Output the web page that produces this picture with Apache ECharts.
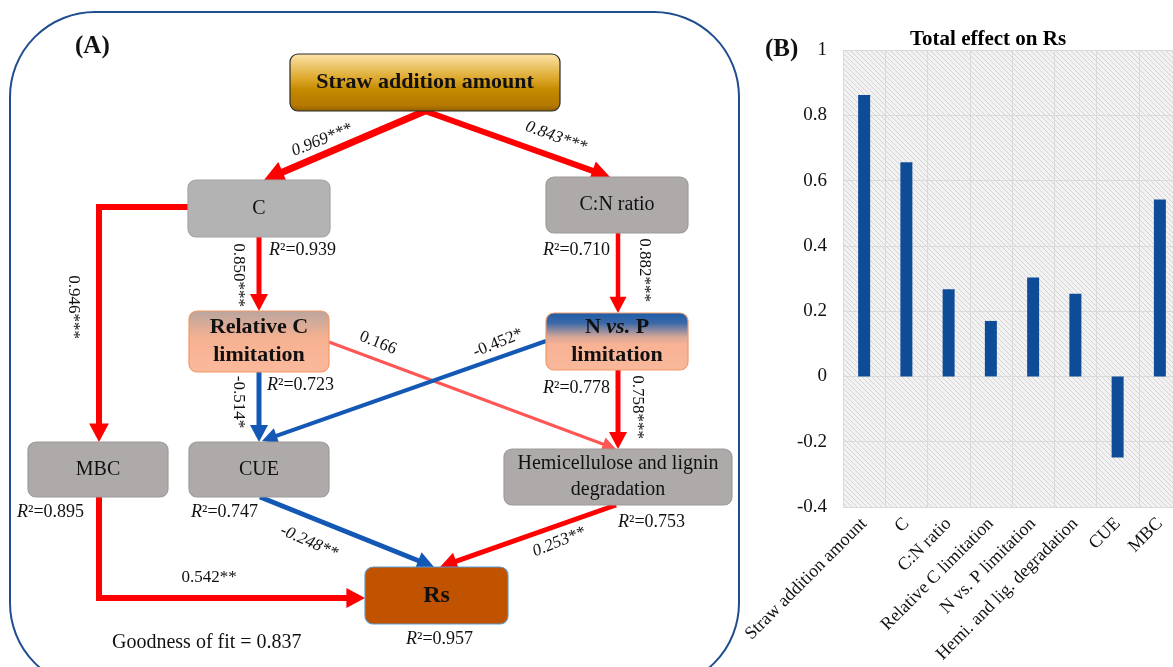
<!DOCTYPE html>
<html>
<head>
<meta charset="utf-8">
<script src="https://cdn.jsdelivr.net/npm/echarts@6/dist/echarts.min.js"></script>
<style>
html,body{margin:0;padding:0;background:#fff;}
#chart{width:1173px;height:667px;}
</style>
</head>
<body>
<div id="chart"></div>
<script>
// ---------------- DATA ----------------
// Panel A: structural equation model
const nodeNames = ['Straw addition amount', 'C', 'C:N ratio', 'Relative C limitation', 'N vs. P limitation', 'MBC', 'CUE', 'Hemicellulose and lignin degradation', 'Rs'];
const nodeR2 = [null, 0.939, 0.710, 0.723, 0.778, 0.895, 0.747, 0.753, 0.957];
const pathFrom = [0, 0, 1, 1, 2, 3, 3, 4, 4, 5, 6, 7];
const pathTo   = [1, 2, 5, 3, 4, 6, 7, 6, 7, 8, 8, 8];
const pathCoef = [0.969, 0.843, 0.946, 0.850, 0.882, -0.514, 0.166, -0.452, 0.758, 0.542, -0.248, 0.253];
const pathSig  = ['***', '***', '***', '***', '***', '*', '', '*', '***', '**', '**', '**'];
const goodnessOfFit = 0.837;

// Panel B: total effect on Rs
const effectCategories = ['Straw addition amount', 'C', 'C:N ratio', 'Relative C limitation', 'N vs. P limitation', 'Hemi. and lig. degradation', 'CUE', 'MBC'];
const totalEffect = [0.862, 0.656, 0.267, 0.170, 0.303, 0.253, -0.248, 0.542];
const effectTickMin = -0.4, effectTickMax = 1, effectTickStep = 0.2;

// ---------------- LAYOUT (diagram positions, px in panel A frame) ----------------
const FONT = "'Liberation Serif', 'Times New Roman', serif";
const nodeBox = [
  [290, 54, 560, 111],
  [188, 180, 330, 237],
  [546, 177, 688, 233],
  [189, 311, 329, 372],
  [546, 313, 688, 370],
  [28, 442, 168, 497],
  [189, 442, 329, 497],
  [504, 449, 732, 505],
  [365, 567, 508, 624]
];
const nodeR2Pos = [null, [269, 250], [543, 250], [267, 385], [543, 388], [17, 512], [191, 512], [618, 522], [406, 639]];
const edgeRoute = [
  [[425, 111], [264, 180]],
  [[425, 111], [610, 177]],
  [[188, 207], [99, 207], [99, 442]],
  [[259, 237], [259, 311]],
  [[618, 233], [618, 313]],
  [[259, 372], [259, 442]],
  [[329, 342], [616, 449]],
  [[546, 341], [262, 441]],
  [[618, 370], [618, 449]],
  [[99, 497], [99, 598], [365, 598]],
  [[260, 497], [434, 567]],
  [[616, 505], [440, 567]]
];
const edgeWidth = [7, 6, 6, 5, 4.5, 5, 3, 4, 5, 6, 5, 5];
const edgeLabelPos = [
  [322, 140, 22, true], [556, 137, -20, true], [73, 307, -90, false], [238, 275, -90, false],
  [644, 270, -90, false], [238, 402, -90, false], [378, 343, -22, false], [498, 343, 22, false],
  [637, 407, -90, false], [209, 578, 0, false], [309, 542, -24, true], [559, 542, 22, true]
];

function grad(stops) { return new echarts.graphic.LinearGradient(0, 0, 0, 1, stops.map(s => ({offset: s[0], color: s[1]}))); }
const GRAY = '#aeaaaa';
const nodeStyle = [
  {fill: grad([[0, '#fde5ab'], [0.45, '#dba527'], [0.62, '#c48a00'], [0.9, '#b47800'], [1, '#8c5c00']]), stroke: '#2a2a2a', font: 22, bold: true, text: 'Straw addition amount'},
  {fill: '#b3b3b3', stroke: '#a3a3a3', font: 20, text: 'C'},
  {fill: GRAY, stroke: '#9e9a9a', font: 20, text: 'C:N ratio'},
  {fill: grad([[0, '#b9a59e'], [0.45, '#f6b191'], [1, '#fbb99c']]), stroke: '#f29a66', font: 22, bold: true, text: 'Relative C\nlimitation'},
  {fill: grad([[0, '#1d5ca8'], [0.18, '#3a68a8'], [0.42, '#d6a797'], [0.55, '#f8b294'], [1, '#f9b89c']]), stroke: '#f29a66', font: 22, bold: true, text: 'N {it|vs.} P\nlimitation'},
  {fill: GRAY, stroke: '#9e9a9a', font: 20, text: 'MBC'},
  {fill: GRAY, stroke: '#9e9a9a', font: 20, text: 'CUE'},
  {fill: GRAY, stroke: '#9e9a9a', font: 20, text: 'Hemicellulose and lignin\ndegradation'},
  {fill: '#c05200', stroke: '#5b9bd5', font: 24, bold: true, text: 'Rs'}
];

function edgeColor(k) {
  if (pathCoef[k] < 0) return '#1458b5';
  return pathSig[k] ? '#ff0000' : '#ff5656';
}

// ---------------- RENDERERS ----------------
function renderEdge(params, api) {
  const k = params.dataIndex;
  const pts = edgeRoute[k].map(p => api.coord(p));
  const w = edgeWidth[k];
  const color = edgeColor(k);
  const n = pts.length;
  const tip = pts[n - 1], prev = pts[n - 2];
  const dx = tip[0] - prev[0], dy = tip[1] - prev[1];
  const L = Math.hypot(dx, dy);
  const ux = dx / L, uy = dy / L;
  const hl = 9 + 1.6 * w, hw = 9 + 1.8 * w;
  const base = [tip[0] - ux * hl, tip[1] - uy * hl];
  const linePts = pts.slice(0, n - 1).concat([[base[0] + ux, base[1] + uy]]);
  const px = -uy, py = ux;
  return {
    type: 'group',
    children: [
      {type: 'polyline', shape: {points: linePts}, style: {stroke: color, lineWidth: w, fill: 'none', lineJoin: 'miter'}},
      {type: 'polygon', shape: {points: [tip, [base[0] + px * hw / 2, base[1] + py * hw / 2], [base[0] - px * hw / 2, base[1] - py * hw / 2]]}, style: {fill: color}}
    ]
  };
}

function renderNode(params, api) {
  const i = params.dataIndex;
  const b = nodeBox[i];
  const p0 = api.coord([b[0], b[1]]), p1 = api.coord([b[2], b[3]]);
  const s = nodeStyle[i];
  const fw = s.bold ? 'bold' : 'normal';
  const children = [{
    type: 'rect',
    shape: {x: p0[0], y: p0[1], width: p1[0] - p0[0], height: p1[1] - p0[1], r: 8},
    style: {fill: s.fill, stroke: s.stroke, lineWidth: 1.2}
  }, {
    type: 'text',
    x: (p0[0] + p1[0]) / 2, y: (p0[1] + p1[1]) / 2,
    style: {
      text: s.text, fontFamily: FONT, fontSize: s.font, fontWeight: fw, fill: '#111',
      align: 'center', verticalAlign: 'middle', lineHeight: s.font + 6,
      rich: {it: {fontFamily: FONT, fontSize: s.font, fontWeight: 'bold', fontStyle: 'italic', fill: '#111', lineHeight: s.font + 6}}
    }
  }];
  if (nodeR2[i] != null) {
    const q = api.coord(nodeR2Pos[i]);
    children.push({
      type: 'text', x: q[0], y: q[1],
      style: {
        text: '{i|R}²=' + nodeR2[i].toFixed(3), fontFamily: FONT, fontSize: 18, fill: '#111',
        align: 'left', verticalAlign: 'middle',
        rich: {i: {fontFamily: FONT, fontSize: 18, fontStyle: 'italic', fill: '#111'}}
      }
    });
  }
  return {type: 'group', children};
}

function renderEdgeLabel(params, api) {
  const k = params.dataIndex;
  const L = edgeLabelPos[k];
  const p = api.coord([L[0], L[1]]);
  return {
    type: 'text', x: p[0], y: p[1], rotation: L[2] * Math.PI / 180,
    style: {
      text: pathCoef[k].toFixed(3) + pathSig[k], fontFamily: FONT, fontSize: 17,
      fontStyle: L[3] ? 'italic' : 'normal', fill: '#111', align: 'center', verticalAlign: 'middle'
    }
  };
}

// hatch pattern for panel B background
const hatch = document.createElement('canvas');
hatch.width = 5; hatch.height = 5;
(function () {
  const c = hatch.getContext('2d');
  c.fillStyle = '#f2f2f2'; c.fillRect(0, 0, 5, 5);
  c.strokeStyle = '#d4d4d4'; c.lineWidth = 1;
  c.beginPath(); c.moveTo(-1, -1); c.lineTo(6, 6); c.stroke();
  c.beginPath(); c.moveTo(-1, 4); c.lineTo(1, 6); c.stroke();
  c.beginPath(); c.moveTo(4, -1); c.lineTo(6, 1); c.stroke();
})();

const chart = echarts.init(document.getElementById('chart'), null, {renderer: 'canvas'});
chart.setOption({
  animation: false,
  backgroundColor: '#fff',
  title: {
    text: 'Total effect on Rs', left: 905, top: 24,
    textStyle: {fontFamily: FONT, fontSize: 21, fontWeight: 'bold', color: '#000'}
  },
  grid: [
    {left: 0, top: 0, width: 740, height: 667, outerBoundsMode: 'none', containLabel: false},
    {left: 843, top: 50, width: 338, height: 457, show: true, backgroundColor: {image: hatch, repeat: 'repeat'}, borderWidth: 0, outerBoundsMode: 'none', containLabel: false}
  ],
  xAxis: [
    {type: 'value', gridIndex: 0, min: 0, max: 740, show: false},
    {
      type: 'category', gridIndex: 1, data: effectCategories,
      axisLine: {show: false}, axisTick: {show: false},
      splitLine: {show: true, lineStyle: {color: '#dadada', width: 1}},
      axisLabel: {rotate: 45, interval: 0, fontFamily: FONT, fontSize: 18, color: '#111', margin: 14}
    }
  ],
  yAxis: [
    {type: 'value', gridIndex: 0, min: 0, max: 667, inverse: true, show: false},
    {
      type: 'value', gridIndex: 1, min: effectTickMin, max: effectTickMax, interval: effectTickStep,
      axisLine: {show: false}, axisTick: {show: false},
      splitLine: {show: true, lineStyle: {color: '#dadada', width: 1}},
      axisLabel: {fontFamily: FONT, fontSize: 19, color: '#111', margin: 16}
    }
  ],
  graphic: [
    {type: 'rect', shape: {x: 10, y: 12, width: 729, height: 676, r: 85}, style: {fill: 'none', stroke: '#1f4e8f', lineWidth: 2}, z: 1},
    {type: 'text', x: 75, y: 47, style: {text: '(A)', fontFamily: FONT, fontSize: 25, fontWeight: 'bold', fill: '#111', verticalAlign: 'middle'}, z: 10},
    {type: 'text', x: 765, y: 50, style: {text: '(B)', fontFamily: FONT, fontSize: 25, fontWeight: 'bold', fill: '#111', verticalAlign: 'middle'}, z: 10},
    {type: 'text', x: 112, y: 643, style: {text: 'Goodness of fit = ' + goodnessOfFit.toFixed(3), fontFamily: FONT, fontSize: 20, fill: '#111', verticalAlign: 'middle'}, z: 10}
  ],
  series: [
    {type: 'custom', xAxisIndex: 0, yAxisIndex: 0, clip: false, silent: true, z: 2,
      data: pathCoef.map((c, k) => [k, k]), renderItem: renderEdge},
    {type: 'custom', xAxisIndex: 0, yAxisIndex: 0, clip: false, silent: true, z: 3,
      data: nodeNames.map((n, i) => [i, i]), renderItem: renderNode},
    {type: 'custom', xAxisIndex: 0, yAxisIndex: 0, clip: false, silent: true, z: 4,
      data: pathCoef.map((c, k) => [k, k]), renderItem: renderEdgeLabel},
    {type: 'bar', xAxisIndex: 1, yAxisIndex: 1, data: totalEffect, barWidth: 12,
      itemStyle: {color: '#0f4c97'}, silent: true}
  ]
});
</script>
</body>
</html>
